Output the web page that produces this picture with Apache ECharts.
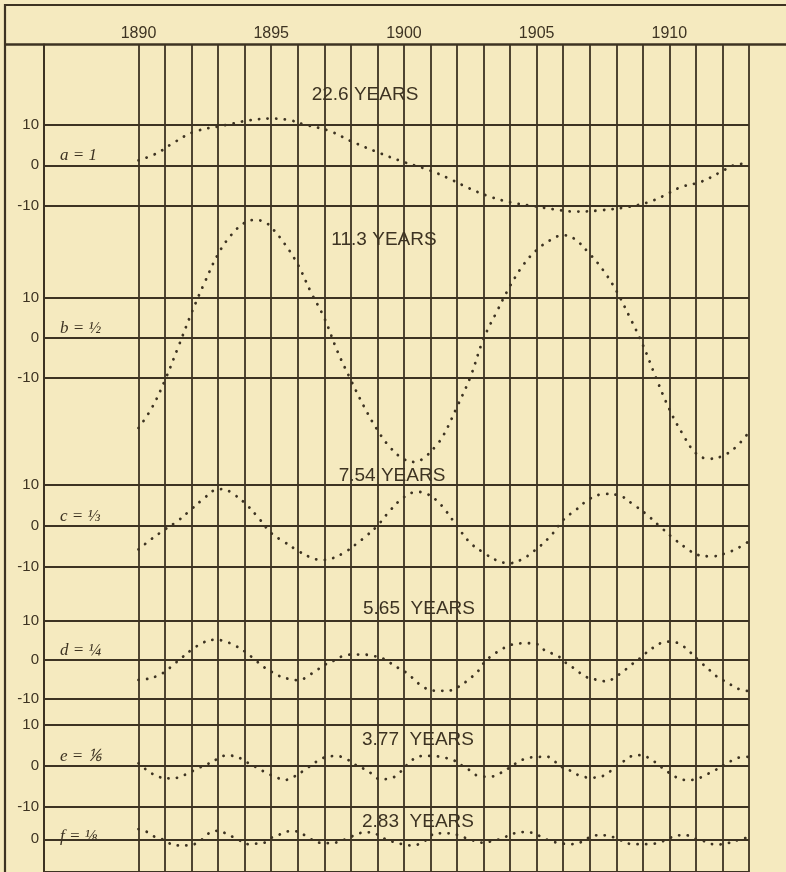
<!DOCTYPE html>
<html>
<head>
<meta charset="utf-8">
<title>Harmonic components</title>
<script src="https://cdn.jsdelivr.net/npm/echarts@6/dist/echarts.min.js"></script>
<style>
html, body { margin: 0; background: #f5eabf; }
#main { width: 786px; height: 872px; }
</style>
</head>
<body>
<div id="main"></div>
<script>
var INK = '#3d3322';
var PAPER = '#f5eabf';

// --- data ---
var gridYears = [1890, 1891, 1892, 1893, 1894, 1895, 1896, 1897, 1898, 1899, 1900, 1901,
  1902, 1903, 1904, 1905, 1906, 1907, 1908, 1909, 1910, 1911, 1912, 1913];
var yearLabels = [1890, 1895, 1900, 1905, 1910];
var periods = ['22.6 YEARS', '11.3 YEARS', '7.54 YEARS', '5.65  YEARS', '3.77  YEARS', '2.83  YEARS'];
var names = ['a = 1', 'b = \u00bd', 'c = \u2153', 'd = \u00bc', 'e = \u2159', 'f = \u215b'];

var curveA = [[1890, 1.2], [1890.7, 3], [1891.3, 5.5], [1892.1, 8.3], [1893.3, 10], [1894.2, 11.2],
  [1895, 11.6], [1895.7, 11.2], [1896.2, 10.2], [1897.2, 8.5], [1898, 6], [1899.1, 3], [1900, 0.8],
  [1900.9, -1.1], [1901.7, -3.3], [1902.45, -5.7], [1903.2, -7.7], [1904, -9.2], [1904.85, -10.1],
  [1905.6, -10.9], [1906.5, -11.5], [1907.4, -11.2], [1908.4, -10.4], [1909.15, -9.3], [1909.75, -7.7],
  [1910.45, -5.4], [1911.2, -4.1], [1911.9, -1.8], [1912.55, 0.2], [1913, 0.4]];

var curveB = [[1890, -22.5], [1890.5, -17.5], [1891, -10.5], [1891.5, -2.2], [1892, 6.3], [1892.5, 14],
  [1893, 21], [1893.5, 25.8], [1894, 28.8], [1894.4, 29.5], [1894.75, 29], [1895, 27.7], [1895.5, 23.6],
  [1896, 18.4], [1896.5, 11.4], [1897, 5], [1897.5, -3.4], [1898, -10.5], [1898.5, -17.2], [1899, -23],
  [1899.5, -27.5], [1900, -30.3], [1900.4, -31], [1900.75, -30], [1901.2, -27], [1901.5, -24.2],
  [1902, -17.2], [1902.5, -9.8], [1903, -0.2], [1903.5, 6.6], [1904, 13], [1904.5, 18.3], [1905, 22],
  [1905.5, 24.4], [1906, 25.7], [1906.4, 24.9], [1907, 21], [1907.5, 17], [1908, 11.8], [1908.5, 5.3],
  [1909, -1.7], [1909.5, -10], [1910, -17.8], [1910.5, -24], [1911, -28.8], [1911.5, -30.2],
  [1912, -29.5], [1912.5, -27.3], [1913, -23.5]];

var curveC = [[1890, -5.8], [1890.5, -3.2], [1891, -0.9], [1891.5, 1.3], [1892, 4.1], [1892.5, 6.9],
  [1892.9, 8.8], [1893.2, 9], [1893.5, 8.1], [1894, 5.6], [1894.5, 2.1], [1895, -1.8], [1895.5, -4],
  [1896, -6.1], [1896.5, -7.8], [1896.9, -8.4], [1897.3, -8], [1897.8, -6.4], [1898.2, -4.5],
  [1898.6, -2.4], [1899, 0], [1899.5, 3.9], [1900, 7], [1900.5, 8.3], [1900.8, 8], [1901.2, 6.4],
  [1901.6, 3.5], [1902, -0.1], [1902.5, -4.2], [1903, -6.6], [1903.5, -8.5], [1903.95, -9.2],
  [1904.4, -8.4], [1904.9, -6.2], [1905.5, -2.7], [1906, 1.4], [1906.5, 4], [1907, 6.6], [1907.6, 7.8],
  [1908.2, 7.2], [1908.6, 5.4], [1909.1, 3], [1909.6, 0.1], [1910.1, -2.8], [1910.6, -5.3],
  [1911.1, -7.2], [1911.6, -7.5], [1912.1, -6.8], [1912.6, -5.4], [1913, -3.8]];

var curveD = [[1890, -5.1], [1890.3, -4.9], [1890.7, -4.1], [1891, -3], [1891.3, -1.3], [1891.65, 0.7],
  [1892, 2.6], [1892.45, 4.5], [1892.9, 5.2], [1893.25, 4.8], [1893.6, 3.8], [1894, 2.2], [1894.45, -0.3],
  [1894.7, -1.7], [1895, -3], [1895.3, -4.1], [1895.7, -4.9], [1896.05, -5.2], [1896.4, -4],
  [1896.7, -2.7], [1897, -1.3], [1897.35, -0.2], [1897.7, 1], [1898.1, 1.4], [1898.45, 1.4],
  [1898.8, 1.1], [1899.2, 0.4], [1899.5, -0.8], [1899.8, -2.1], [1900.15, -3.5], [1900.4, -5.1],
  [1900.7, -6.8], [1901.05, -7.8], [1901.4, -7.9], [1901.75, -7.8], [1902.05, -6.9], [1902.35, -5.5],
  [1902.6, -4.1], [1902.85, -2.4], [1903.05, -0.4], [1903.35, 1.3], [1903.6, 2.4], [1903.9, 3.5],
  [1904.25, 4.2], [1904.6, 4.3], [1905, 4.1], [1905.3, 2.5], [1905.6, 1.6], [1905.9, 0.6],
  [1906.15, -1], [1906.4, -2.1], [1906.65, -3.4], [1906.95, -4.6], [1907.3, -5.1], [1907.65, -5.5],
  [1907.95, -4.4], [1908.25, -3], [1908.55, -1.3], [1908.85, 0.2], [1909.1, 1.7], [1909.4, 3.2],
  [1909.7, 4.4], [1910.05, 4.7], [1910.4, 4.1], [1910.7, 2.5], [1911.2, -0.7], [1911.5, -2.5],
  [1911.7, -3.8], [1912, -5.1], [1912.3, -6.3], [1912.6, -7.4], [1913, -8]];

var curveE = [[1890, 0.6], [1890.2, -0.5], [1890.45, -1.7], [1890.75, -2.7], [1891.15, -3.1],
  [1891.5, -2.9], [1891.85, -1.9], [1892.25, -0.6], [1892.6, 0.4], [1892.95, 1.6], [1893.3, 2.5],
  [1893.6, 2.4], [1893.9, 1.6], [1894.15, 0.6], [1894.5, -0.6], [1894.8, -1.7], [1895.15, -2.7],
  [1895.5, -3.5], [1895.85, -2.7], [1896.2, -1.3], [1896.75, 1.2], [1897.1, 2.2], [1897.45, 2.4],
  [1897.85, 1.6], [1898.15, 0.3], [1898.5, -0.8], [1898.8, -2], [1899.1, -3.3], [1899.5, -3.1],
  [1899.8, -1.9], [1900.35, 1.6], [1900.75, 2.4], [1901.1, 2.4], [1901.5, 2], [1901.85, 1.4],
  [1902.2, 0], [1902.5, -1.2], [1902.8, -2.5], [1903.25, -2.7], [1903.6, -1.9], [1903.95, -0.6],
  [1904.25, 0.7], [1904.6, 1.8], [1904.95, 2.1], [1905.4, 2.2], [1905.65, 1.2], [1906, -0.5],
  [1906.3, -1.3], [1906.65, -2.5], [1907.05, -2.9], [1907.4, -2.7], [1907.7, -1.7], [1908, -0.1],
  [1908.3, 1.2], [1908.6, 2.4], [1908.95, 2.6], [1909.25, 1.8], [1909.5, 0.7], [1909.75, -0.6],
  [1910.05, -2], [1910.35, -3.1], [1910.65, -3.5], [1911, -3.3], [1911.35, -2.3], [1911.7, -1.2],
  [1912.05, 0.2], [1912.4, 1.4], [1912.7, 2.1], [1913, 2.2]];

var curveF = [[1890, 3.1], [1890.3, 2.3], [1890.55, 1], [1890.85, 0.2], [1891.15, -1.2], [1891.5, -1.9],
  [1891.9, -1.9], [1892.25, -0.9], [1892.5, 0.7], [1892.75, 2.3], [1893.05, 2.6], [1893.35, 1.4],
  [1893.65, 0.4], [1894.15, -1.5], [1894.45, -1.3], [1894.8, -0.9], [1895, 0.4], [1895.3, 1.4],
  [1895.55, 2.3], [1895.85, 2.5], [1896.15, 1.8], [1896.3, 1], [1896.85, -1.1], [1897.15, -1.2],
  [1897.5, -0.9], [1897.9, 0.4], [1898.2, 1.4], [1898.5, 2.1], [1898.75, 2.1], [1899.1, 1],
  [1899.35, -0.2], [1899.65, -0.9], [1900, -1.6], [1900.35, -1.9], [1900.65, -1.1], [1900.95, 0.4],
  [1901.15, 1.8], [1901.5, 1.8], [1901.8, 1.8], [1902.1, 1], [1902.4, 0.2], [1902.7, -0.6],
  [1903.05, -1.1], [1903.35, -0.4], [1903.7, 0.2], [1903.95, 1.2], [1904.25, 2], [1904.55, 2.2],
  [1904.9, 1.8], [1905.2, 0.6], [1905.55, -0.6], [1905.9, -1.2], [1906.25, -1.5], [1906.6, -1.1],
  [1906.95, 0.4], [1907.25, 1.2], [1907.6, 1.2], [1907.9, 0.6], [1908.2, -0.4], [1908.6, -1.5],
  [1908.95, -1.5], [1909.25, -1.5], [1909.65, -0.9], [1910, 0.3], [1910.3, 1.2], [1910.65, 1.2],
  [1910.95, 0.2], [1911.25, -0.4], [1911.5, -1.3], [1911.85, -1.6], [1912.2, -1.2], [1912.6, -0.2],
  [1912.9, 0.4], [1913, 0.5]];

var curves = [curveA, curveB, curveC, curveD, curveE, curveF];

// --- layout (pixels) ---
var PLOT_LEFT = 44, PLOT_RIGHT = 37, HEAD = 44.5;
var X_MIN = 1886.44, X_MAX = 1913;   // 1890 falls on x=138
// top of the +10 line and distance to the -10 line for each strip
var strips = [
  { top: 125, h: 80.5, title: [365, 95] },
  { top: 298, h: 80, title: [384, 240] },
  { top: 485, h: 81.5, title: [392, 476] },
  { top: 621, h: 78, title: [419, 609] },
  { top: 725, h: 81.5, title: [418, 740] },
  { top: 806.5, h: 78.5, title: [418, 822] }
];

var FONT = 'Liberation Sans';

var grid = [{ left: PLOT_LEFT, right: PLOT_RIGHT, top: HEAD, bottom: 0 }];
var xAxis = [{ type: 'value', min: X_MIN, max: X_MAX, gridIndex: 0, show: false }];
var yAxis = [{
  type: 'value', min: 0, max: 1, gridIndex: 0,
  axisLine: { show: true, lineStyle: { color: INK, width: 2 } },
  axisTick: { show: false }, axisLabel: { show: false }, splitLine: { show: false }
}];

var series = [{
  type: 'line', xAxisIndex: 0, yAxisIndex: 0, data: [], silent: true,
  markLine: {
    silent: true, symbol: 'none', animation: false,
    lineStyle: { color: INK, width: 1.8, type: 'solid' },
    label: { show: false },
    emphasis: { disabled: true },
    data: gridYears.map(function (y) {
      return {
        xAxis: y,
        label: {
          show: yearLabels.indexOf(y) >= 0, position: 'end', formatter: String(y),
          color: INK, fontSize: 16, fontFamily: FONT, distance: 3
        }
      };
    })
  }
}];

strips.forEach(function (s, i) {
  grid.push({ left: PLOT_LEFT, right: PLOT_RIGHT, top: s.top, height: s.h });
  xAxis.push({ type: 'value', min: X_MIN, max: X_MAX, gridIndex: i + 1, show: false });
  yAxis.push({
    type: 'value', min: -10, max: 10, interval: 10, gridIndex: i + 1,
    axisLine: { show: false }, axisTick: { show: false },
    axisLabel: {
      color: INK, fontSize: 15, fontFamily: FONT, margin: 5,
      formatter: function (v) { return (i === 5 && v !== 0) ? '' : String(v); }
    },
    splitLine: { show: true, lineStyle: { color: INK, width: 2 } }
  });
  series.push({
    type: 'line', xAxisIndex: i + 1, yAxisIndex: i + 1, data: curves[i],
    smooth: 0.4, showSymbol: false, clip: false, silent: true,
    lineStyle: { color: INK, width: 2.8, type: [0.1, 8.5], cap: 'round' }
  });
});

var graphic = [
  { type: 'line', shape: { x1: 4, y1: 5, x2: 786, y2: 5 }, style: { stroke: INK, lineWidth: 2.2 } },
  { type: 'line', shape: { x1: 4, y1: HEAD, x2: 786, y2: HEAD }, style: { stroke: INK, lineWidth: 2.4 } },
  { type: 'line', shape: { x1: 5, y1: 4, x2: 5, y2: 872 }, style: { stroke: INK, lineWidth: 2.2 } }
];
strips.forEach(function (s, i) {
  graphic.push({
    type: 'text', z: -10, x: s.title[0], y: s.title[1],
    style: { text: periods[i], fill: INK, font: '19px "' + FONT + '"', textAlign: 'center', textVerticalAlign: 'middle' }
  });
  graphic.push({
    type: 'text', z: -10, x: 60, y: s.top + s.h / 2 - 1,
    style: { text: names[i], fill: INK, font: 'italic 17px "Liberation Serif"', textAlign: 'left', textVerticalAlign: 'bottom' }
  });
});

var chart = echarts.init(document.getElementById('main'));
chart.setOption({
  backgroundColor: PAPER,
  animation: false,
  grid: grid,
  xAxis: xAxis,
  yAxis: yAxis,
  series: series,
  graphic: graphic
});
</script>
</body>
</html>
